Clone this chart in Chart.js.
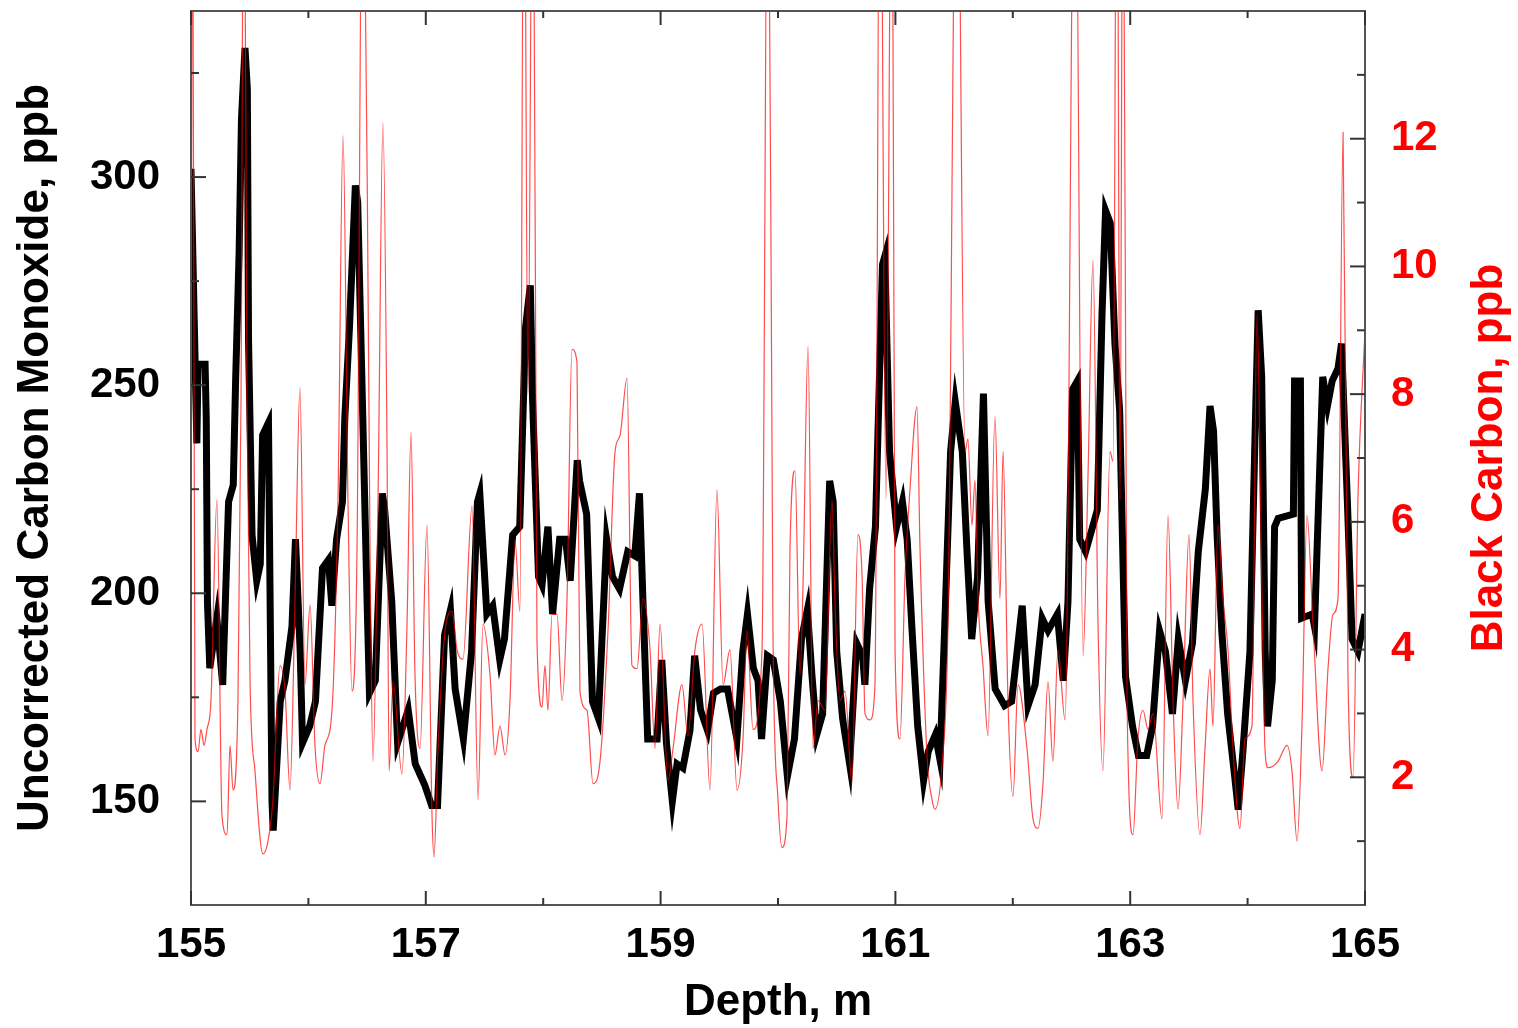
<!DOCTYPE html>
<html lang="en">

<head>
    <meta charset="UTF-8">
    <title>Carbon Monoxide and Black Carbon vs Depth</title>
    <script src="https://cdn.jsdelivr.net/npm/chart.js"></script>
    <style>
        html, body { margin: 0; padding: 0; background: #fff; }
        #wrap { width: 1518px; height: 1028px; }
    </style>
    <script>
        // depth (m) and uncorrected carbon monoxide (ppb), black trace
        const coDepth = [
            155.00, 155.05, 155.06, 155.12, 155.13, 155.14, 155.16, 155.22, 155.27, 155.32,
            155.36, 155.38, 155.41, 155.43, 155.46, 155.48, 155.49, 155.52, 155.56, 155.59,
            155.61, 155.66, 155.67, 155.69, 155.70, 155.76, 155.80, 155.86, 155.89, 155.93,
            155.95, 156.01, 156.06, 156.12, 156.17, 156.20, 156.24, 156.29, 156.31, 156.35,
            156.40, 156.42, 156.46, 156.50, 156.52, 156.57, 156.63, 156.65, 156.71, 156.76,
            156.85, 156.91, 156.99, 157.05, 157.10, 157.16, 157.21, 157.25, 157.32, 157.39,
            157.44, 157.46, 157.52, 157.57, 157.63, 157.67, 157.74, 157.80, 157.85, 157.89,
            157.91, 157.96, 157.99, 158.04, 158.08, 158.14, 158.19, 158.23, 158.29, 158.31,
            158.37, 158.42, 158.47, 158.54, 158.59, 158.65, 158.72, 158.78, 158.82, 158.85,
            158.89, 158.97, 159.01, 159.05, 159.10, 159.14, 159.19, 159.25, 159.29, 159.34,
            159.40, 159.45, 159.51, 159.57, 159.65, 159.70, 159.74, 159.79, 159.83, 159.86,
            159.91, 159.96, 160.02, 160.08, 160.14, 160.20, 160.25, 160.29, 160.33, 160.38,
            160.44, 160.47, 160.50, 160.55, 160.61, 160.67, 160.72, 160.74, 160.78, 160.83,
            160.89, 160.91, 160.95, 161.01, 161.06, 161.10, 161.14, 161.19, 161.24, 161.28,
            161.34, 161.38, 161.42, 161.47, 161.51, 161.57, 161.61, 161.65, 161.70, 161.75,
            161.79, 161.85, 161.93, 161.99, 162.08, 162.13, 162.19, 162.25, 162.30, 162.38,
            162.43, 162.47, 162.51, 162.55, 162.57, 162.62, 162.67, 162.72, 162.76, 162.79,
            162.83, 162.87, 162.91, 162.96, 163.02, 163.07, 163.14, 163.19, 163.25, 163.30,
            163.36, 163.41, 163.47, 163.53, 163.58, 163.64, 163.68, 163.71, 163.74, 163.78,
            163.83, 163.89, 163.92, 163.96, 164.02, 164.06, 164.09, 164.12, 164.15, 164.17,
            164.21, 164.23, 164.26, 164.39, 164.40, 164.45, 164.46, 164.55, 164.57, 164.64,
            164.68, 164.72, 164.77, 164.80, 164.85, 164.89, 164.94, 165.00
        ];
        const coPpb = [
            302, 236, 255, 255, 242, 198, 182, 194, 178, 222,
            226, 251, 282, 314, 331, 321, 261, 214, 203, 207,
            238, 241, 210, 150, 143, 174, 179, 192, 213, 186,
            164, 168, 174, 206, 208, 197, 213, 222, 242, 264,
            298, 294, 246, 198, 176, 179, 224, 220, 198, 164,
            172, 159, 154, 149, 149, 190, 196, 177, 165, 186,
            222, 224, 195, 197, 184, 189, 214, 216, 264, 274,
            246, 204, 202, 216, 195, 213, 213, 203, 232, 227,
            219, 174, 170, 213, 204, 201, 210, 209, 224, 198,
            165, 165, 184, 164, 150, 159, 158, 167, 185, 172,
            167, 176, 177, 177, 165, 186, 195, 182, 179, 165,
            185, 184, 174, 156, 165, 189, 196, 180, 166, 171,
            227, 222, 186, 170, 159, 188, 185, 178, 201, 216,
            279, 281, 234, 216, 222, 213, 192, 168, 155, 162,
            166, 160, 192, 234, 246, 234, 210, 189, 204, 248,
            198, 177, 173, 174, 197, 173, 178, 194, 191, 195,
            179, 198, 249, 251, 213, 210, 215, 220, 267, 292,
            289, 260, 244, 180, 168, 161, 161, 168, 191, 186,
            171, 189, 179, 188, 210, 225, 245, 239, 214, 191,
            171, 156, 148, 162, 186, 234, 268, 252, 186, 168,
            179, 216, 218, 219, 251, 251, 194, 195, 192, 252,
            245, 251, 254, 260, 222, 189, 186, 195
        ];

        // depth (m) and black carbon (ppb), red trace; spikes run off the top
        const bcDepth = [
            155.000, 155.012, 155.034, 155.060, 155.085, 155.111, 155.136, 155.170, 155.221, 155.264,
            155.307, 155.332, 155.358, 155.400, 155.426, 155.451, 155.477, 155.503, 155.545, 155.613,
            155.656, 155.698, 155.758, 155.801, 155.843, 155.886, 155.928, 155.971, 156.014, 156.056,
            156.099, 156.141, 156.201, 156.252, 156.295, 156.337, 156.371, 156.414, 156.465, 156.525,
            156.550, 156.593, 156.635, 156.670, 156.687, 156.721, 156.797, 156.840, 156.874, 156.908,
            156.951, 157.010, 157.053, 157.070, 157.104, 157.164, 157.223, 157.266, 157.317, 157.394,
            157.445, 157.487, 157.547, 157.589, 157.632, 157.675, 157.717, 157.760, 157.802, 157.836,
            157.870, 157.913, 157.947, 157.990, 158.015, 158.041, 158.075, 158.118, 158.160, 158.203,
            158.245, 158.288, 158.313, 158.373, 158.424, 158.484, 158.552, 158.612, 158.654, 158.714,
            158.756, 158.799, 158.850, 158.910, 158.952, 158.995, 159.063, 159.106, 159.182, 159.233,
            159.293, 159.353, 159.421, 159.480, 159.532, 159.591, 159.651, 159.702, 159.736, 159.787,
            159.864, 159.915, 159.957, 160.000, 160.034, 160.077, 160.102, 160.145, 160.187, 160.213,
            160.256, 160.298, 160.341, 160.400, 160.460, 160.486, 160.528, 160.571, 160.630, 160.681,
            160.716, 160.741, 160.784, 160.826, 160.869, 160.920, 160.971, 160.997, 161.039, 161.082,
            161.124, 161.184, 161.210, 161.269, 161.312, 161.337, 161.397, 161.448, 161.525, 161.593,
            161.618, 161.652, 161.678, 161.704, 161.746, 161.789, 161.848, 161.891, 161.917, 161.959,
            162.002, 162.044, 162.121, 162.172, 162.215, 162.257, 162.300, 162.342, 162.385, 162.445,
            162.530, 162.598, 162.641, 162.683, 162.726, 162.768, 162.828, 162.853, 162.888, 162.913,
            162.939, 162.973, 163.024, 163.066, 163.109, 163.152, 163.194, 163.271, 163.322, 163.365,
            163.407, 163.450, 163.501, 163.535, 163.595, 163.637, 163.680, 163.705, 163.748, 163.790,
            163.833, 163.876, 163.935, 163.978, 164.037, 164.080, 164.123, 164.148, 164.174, 164.259,
            164.336, 164.378, 164.421, 164.463, 164.506, 164.557, 164.634, 164.685, 164.727, 164.770,
            164.813, 164.855, 164.898, 164.940, 165.000
        ];
        const bcPpb = [
            4, 18, 2.6, 2.4, 2.75, 2.5, 2.75, 3.2, 6.35, 1.4,
            1.1, 2.5, 1.8, 3.2, 7.9, 18, 7.9, 3.5, 2.1, 0.8,
            1.0, 1.65, 3.75, 3.35, 1.8, 4.8, 8.1, 3.45, 4.7, 2.5,
            1.9, 2.5, 3.05, 6.35, 12.05, 6.35, 3.35, 5.55, 18, 5.55,
            2.25, 6.35, 12.25, 7.1, 2.1, 3.5, 2.05, 4.4, 7.4, 3.6,
            2.45, 5.95, 1.4, 0.75, 2.45, 4.3, 4.6, 4.0, 3.85, 6.25,
            1.65, 4.4, 3.6, 2.35, 2.8, 2.35, 3.2, 5.7, 4.6, 18,
            8, 18, 4.15, 3.1, 3.75, 3.05, 4.55, 4.55, 3.2, 4.8,
            8.7, 8.5, 3.35, 3.05, 1.9, 2.25, 4.3, 7.1, 7.35, 8.25,
            3.75, 3.7, 4.8, 4.0, 2.45, 4.4, 1.95, 2.45, 3.45, 2.65,
            4.0, 4.4, 1.8, 6.5, 3.45, 4.0, 1.8, 2.6, 4.3, 2.75,
            4.0, 18, 4.3, 1.65, 0.9, 1.4, 5.55, 6.8, 3.6, 5.0,
            8.75, 2.45, 3.2, 3.05, 6.35, 4.7, 3.2, 3.35, 1.9, 5.8,
            5.15, 3.0, 2.9, 3.45, 18, 6.35, 18, 4.0, 2.6, 5.15,
            6.5, 7.8, 5.55, 2.35, 1.65, 1.5, 2.2, 4.4, 18, 7.1,
            7.3, 5.95, 6.65, 4.8, 3.75, 2.65, 7.65, 4.8, 7.1, 3.2,
            1.7, 3.45, 2.45, 1.35, 1.2, 1.9, 3.5, 2.25, 4.0, 2.9,
            18, 3.9, 6.75, 10.1, 4.4, 2.1, 7.1, 6.95, 18, 6.35,
            18, 3.2, 1.1, 2.6, 3.05, 2.75, 3.0, 1.35, 6.1, 3.2,
            1.5, 3.2, 5.8, 3.2, 1.1, 2.45, 3.7, 2.8, 5.95, 4.8,
            4.0, 2.45, 1.2, 2.6, 2.8, 9.25, 4.8, 2.45, 2.15, 2.25,
            2.5, 2.1, 1.0, 2.8, 6.1, 4.4, 2.1, 3.7, 4.55, 4.8,
            12.1, 3.6, 2.0, 6.35, 9.0
        ];

        // axis ticks
        const depthLabels = [155, 157, 159, 161, 163, 165];
        const depthMinor = [156, 158, 160, 162, 164];
        const coLabels = [150, 200, 250, 300];
        const coMinor = [175, 225, 275, 325];
        const bcLabels = [2, 4, 6, 8, 10, 12];
        const bcMinor = [1, 3, 5, 7, 9, 11, 13];

        const FONT = "'Liberation Sans', Arial, sans-serif";

        // frame, inward tick marks and axis titles
        const framePlugin = {
            id: 'frame',
            afterDraw(chart) {
                const { ctx, chartArea: a, scales } = chart;
                const seg = (x1, y1, x2, y2) => {
                    ctx.beginPath(); ctx.moveTo(x1, y1); ctx.lineTo(x2, y2); ctx.stroke();
                };
                ctx.save();
                ctx.lineWidth = 2;
                ctx.strokeStyle = '#555';
                ctx.strokeRect(a.left, a.top, a.right - a.left, a.bottom - a.top);

                ctx.strokeStyle = '#333';
                depthLabels.concat(depthMinor).forEach(v => {
                    const x = scales.x.getPixelForValue(v);
                    const len = depthLabels.includes(v) ? 14 : 7;
                    seg(x, a.bottom, x, a.bottom - len);
                    seg(x, a.top, x, a.top + len);
                });
                coLabels.concat(coMinor).forEach(v => {
                    const y = scales.y.getPixelForValue(v);
                    seg(a.left, y, a.left + (coLabels.includes(v) ? 15 : 8), y);
                });
                bcLabels.concat(bcMinor).forEach(v => {
                    const y = scales.y2.getPixelForValue(v);
                    seg(a.right, y, a.right - (bcLabels.includes(v) ? 15 : 8), y);
                });

                const midY = (a.top + a.bottom) / 2;
                ctx.font = 'bold 44px ' + FONT;
                ctx.textAlign = 'center';
                ctx.textBaseline = 'middle';
                ctx.fillStyle = '#000';
                ctx.fillText('Depth, m', (a.left + a.right) / 2, 1003);

                ctx.translate(36, midY);
                ctx.rotate(-Math.PI / 2);
                ctx.fillText('Uncorrected Carbon Monoxide, ppb', 0, 0);
                ctx.rotate(Math.PI / 2);
                ctx.translate(-36, -midY);

                ctx.fillStyle = '#ff0000';
                ctx.translate(1490, midY);
                ctx.rotate(-Math.PI / 2);
                ctx.fillText('Black Carbon, ppb', 0, 0);
                ctx.restore();
            }
        };

        // fixed box sizes so the plot area sits where the original one does
        function fixBox(w, h) {
            return s => {
                if (w) s.width = w;
                if (h) s.height = h;
                s.paddingTop = 0;
                s.paddingBottom = 0;
                s.paddingLeft = 0;
                s.paddingRight = 0;
            };
        }

        function createChart() {
            const ctx = document.getElementById('myChart').getContext('2d');
            new Chart(ctx, {
                type: 'line',
                data: {
                    datasets: [{
                        label: 'Black Carbon',
                        data: bcDepth.map((d, i) => ({ x: d, y: bcPpb[i] })),
                        yAxisID: 'y2',
                        borderColor: 'rgba(255, 0, 0, 0.7)',
                        borderWidth: 1.2,
                        cubicInterpolationMode: 'monotone',
                        pointRadius: 0,
                        order: 0
                    }, {
                        label: 'Uncorrected Carbon Monoxide',
                        data: coDepth.map((d, i) => ({ x: d, y: coPpb[i] })),
                        yAxisID: 'y',
                        borderColor: '#000',
                        borderWidth: 7,
                        tension: 0,
                        pointRadius: 0,
                        order: 1
                    }]
                },
                options: {
                    responsive: true,
                    maintainAspectRatio: false,
                    animation: false,
                    layout: { padding: { top: 11, left: 0, right: 0, bottom: 0 } },
                    plugins: { legend: { display: false }, tooltip: { enabled: false } },
                    scales: {
                        x: {
                            type: 'linear',
                            min: 155,
                            max: 165,
                            grid: { display: false, drawTicks: false },
                            border: { display: false },
                            afterBuildTicks: s => { s.ticks = depthLabels.map(v => ({ value: v })); },
                            afterFit: fixBox(0, 123),
                            ticks: {
                                padding: 15,
                                maxRotation: 0,
                                color: '#000',
                                font: { family: FONT, size: 42, weight: 'bold' }
                            }
                        },
                        y: {
                            position: 'left',
                            min: 125.1,
                            max: 339.9,
                            grid: { display: false, drawTicks: false },
                            border: { display: false },
                            afterBuildTicks: s => { s.ticks = coLabels.map(v => ({ value: v })); },
                            afterFit: fixBox(191, 0),
                            ticks: {
                                padding: 31,
                                color: '#000',
                                font: { family: FONT, size: 42, weight: 'bold' }
                            }
                        },
                        y2: {
                            position: 'right',
                            min: 0,
                            max: 14,
                            grid: { display: false, drawTicks: false },
                            border: { display: false },
                            afterBuildTicks: s => { s.ticks = bcLabels.map(v => ({ value: v })); },
                            afterFit: fixBox(153, 0),
                            ticks: {
                                padding: 26,
                                color: '#ff0000',
                                font: { family: FONT, size: 42, weight: 'bold' }
                            }
                        }
                    }
                },
                plugins: [framePlugin]
            });
        }

        document.addEventListener('DOMContentLoaded', createChart);
    </script>
</head>

<body>
    <div id="wrap"><canvas id="myChart"></canvas></div>
</body>

</html>
